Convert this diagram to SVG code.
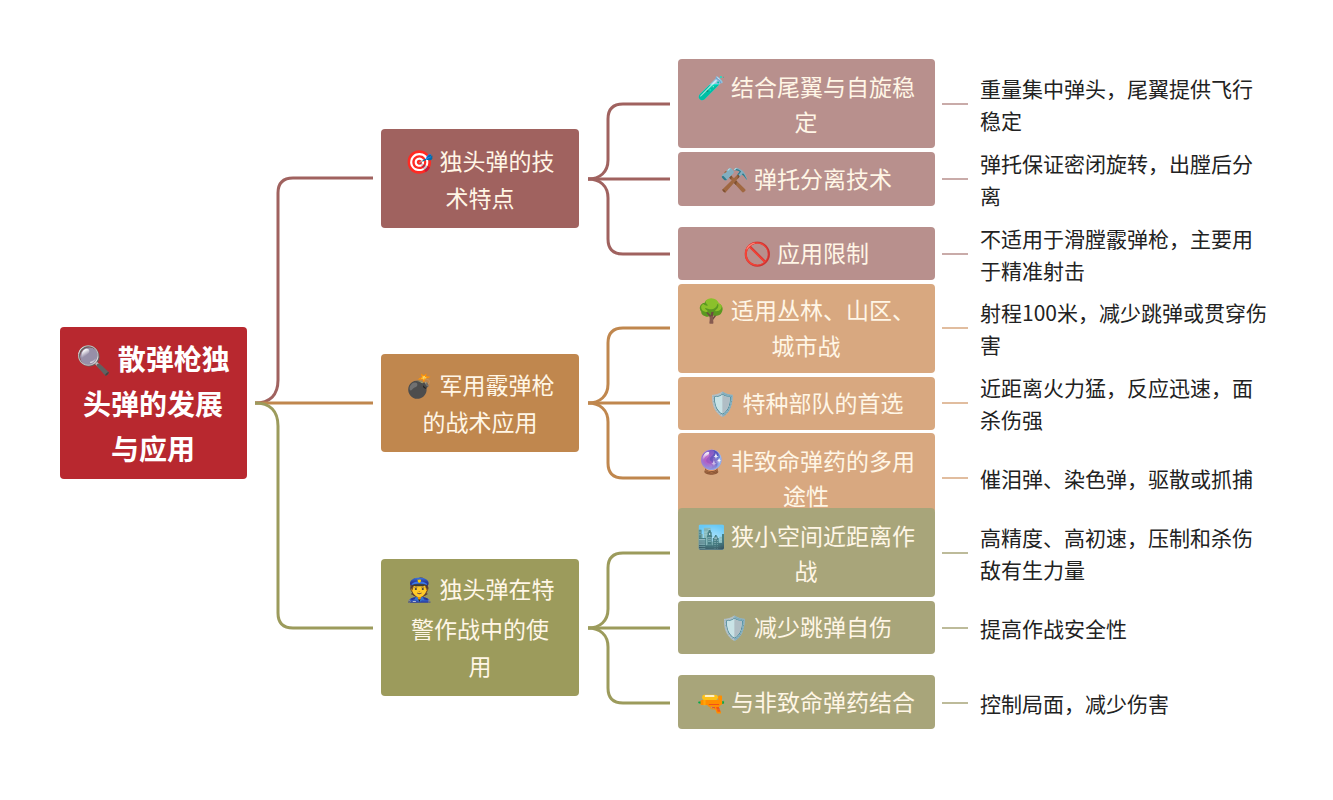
<svg xmlns="http://www.w3.org/2000/svg" width="1333" height="800" viewBox="0 0 1333 800">
<style>
text{font-family:"Noto Sans CJK SC","Noto Sans",sans-serif;text-anchor:middle}
.n{fill:#fff6e6;font-size:23px}
.r{fill:#fff;font-size:28px;font-weight:bold}
.d{fill:#222;font-size:21px;text-anchor:start}
.c{fill:none;stroke-width:3}
.dash{stroke-width:1.5}
</style>
<rect width="1333" height="800" fill="#fff"/>
<g id="connectors">
<path class="c" stroke="#a0625f" d="M255 403 C270 403 278 395 278 380 L278 193 Q278 178 293 178 L373 178"/>
<path class="c" stroke="#c0874e" d="M255 403 L373 403"/>
<path class="c" stroke="#9c9b5c" d="M255 403 C270 403 278 411 278 426 L278 613 Q278 628 293 628 L373 628"/>
<g stroke="#a0625f" class="c"><path d="M588 179 C600 179 608 172 608 160 L608 119 Q608 104 623 104 L670 104"/><path d="M588 179 L670 179"/><path d="M588 179 C600 179 608 186 608 198 L608 239 Q608 254 623 254 L670 254"/></g>
<g stroke="#c0874e" class="c"><path d="M588 403 C600 403 608 396 608 384 L608 343 Q608 328 623 328 L670 328"/><path d="M588 403 L670 403"/><path d="M588 403 C600 403 608 410 608 422 L608 463 Q608 478 623 478 L670 478"/></g>
<g stroke="#9c9b5c" class="c"><path d="M588 628 C600 628 608 621 608 609 L608 568 Q608 553 623 553 L670 553"/><path d="M588 628 L670 628"/><path d="M588 628 C600 628 608 635 608 647 L608 688 Q608 703 623 703 L670 703"/></g>
<g class="dash">
<path stroke="#b8908d" d="M942 104H968M942 179H968M942 254H968"/>
<path stroke="#d8a880" d="M942 328H968M942 403H968M942 478H968"/>
<path stroke="#a8a57a" d="M942 553H968M942 628H968M942 703H968"/>
</g>
</g>
<g id="root"><rect x="60" y="327" width="187" height="152" rx="4" fill="#b8282f"/><text class="r" x="153" y="370">🔍 散弹枪独</text><text class="r" x="153" y="415">头弹的发展</text><text class="r" x="153" y="460">与应用</text></g>
<g id="b1"><rect x="381" y="129" width="198" height="99" rx="4" fill="#a0625f"/><text class="n" x="480" y="170">🎯 独头弹的技</text><text class="n" x="480" y="207">术特点</text></g>
<g id="b2"><rect x="381" y="354" width="198" height="98" rx="4" fill="#c0874e"/><text class="n" x="480" y="394">💣 军用霰弹枪</text><text class="n" x="480" y="431">的战术应用</text></g>
<g id="b3"><rect x="381" y="559" width="198" height="137" rx="4" fill="#9c9b5c"/><text class="n" x="480" y="598">👮 独头弹在特</text><text class="n" x="480" y="638">警作战中的使</text><text class="n" x="480" y="675">用</text></g>
<g id="l1"><rect x="678" y="59" width="257" height="89" rx="4" fill="#b8908d"/><text class="n" x="806" y="96">🧪 结合尾翼与自旋稳</text><text class="n" x="806" y="131">定</text></g>
<g id="l2"><rect x="678" y="152" width="257" height="54" rx="4" fill="#b8908d"/><text class="n" x="806" y="188">⚒️ 弹托分离技术</text></g>
<g id="l3"><rect x="678" y="227" width="257" height="53" rx="4" fill="#b8908d"/><text class="n" x="806" y="262">🚫 应用限制</text></g>
<g id="l4"><rect x="678" y="284" width="257" height="89" rx="4" fill="#d8a880"/><text class="n" x="806" y="319">🌳 适用丛林、山区、</text><text class="n" x="806" y="355">城市战</text></g>
<g id="l5"><rect x="678" y="377" width="257" height="53" rx="4" fill="#d8a880"/><text class="n" x="806" y="412">🛡️ 特种部队的首选</text></g>
<g id="l6"><rect x="678" y="433" width="257" height="80" rx="4" fill="#d8a880"/><text class="n" x="806" y="470">🔮 非致命弹药的多用</text><text class="n" x="806" y="505">途性</text></g>
<g id="l7"><rect x="678" y="508" width="257" height="89" rx="4" fill="#a8a57a"/><text class="n" x="806" y="545">🏙️ 狭小空间近距离作</text><text class="n" x="806" y="580">战</text></g>
<g id="l8"><rect x="678" y="601" width="257" height="53" rx="4" fill="#a8a57a"/><text class="n" x="806" y="636">🛡️ 减少跳弹自伤</text></g>
<g id="l9"><rect x="678" y="675" width="257" height="54" rx="4" fill="#a8a57a"/><text class="n" x="806" y="711">🔫 与非致命弹药结合</text></g>
<g id="texts">
<text class="d" x="980" y="97">重量集中弹头，尾翼提供飞行</text><text class="d" x="980" y="129">稳定</text>
<text class="d" x="980" y="172">弹托保证密闭旋转，出膛后分</text><text class="d" x="980" y="204">离</text>
<text class="d" x="980" y="247">不适用于滑膛霰弹枪，主要用</text><text class="d" x="980" y="279">于精准射击</text>
<text class="d" x="980" y="321">射程100米，减少跳弹或贯穿伤</text><text class="d" x="980" y="353">害</text>
<text class="d" x="980" y="396">近距离火力猛，反应迅速，面</text><text class="d" x="980" y="428">杀伤强</text>
<text class="d" x="980" y="487">催泪弹、染色弹，驱散或抓捕</text>
<text class="d" x="980" y="546">高精度、高初速，压制和杀伤</text><text class="d" x="980" y="578">敌有生力量</text>
<text class="d" x="980" y="637">提高作战安全性</text>
<text class="d" x="980" y="712">控制局面，减少伤害</text>
</g>
</svg>
